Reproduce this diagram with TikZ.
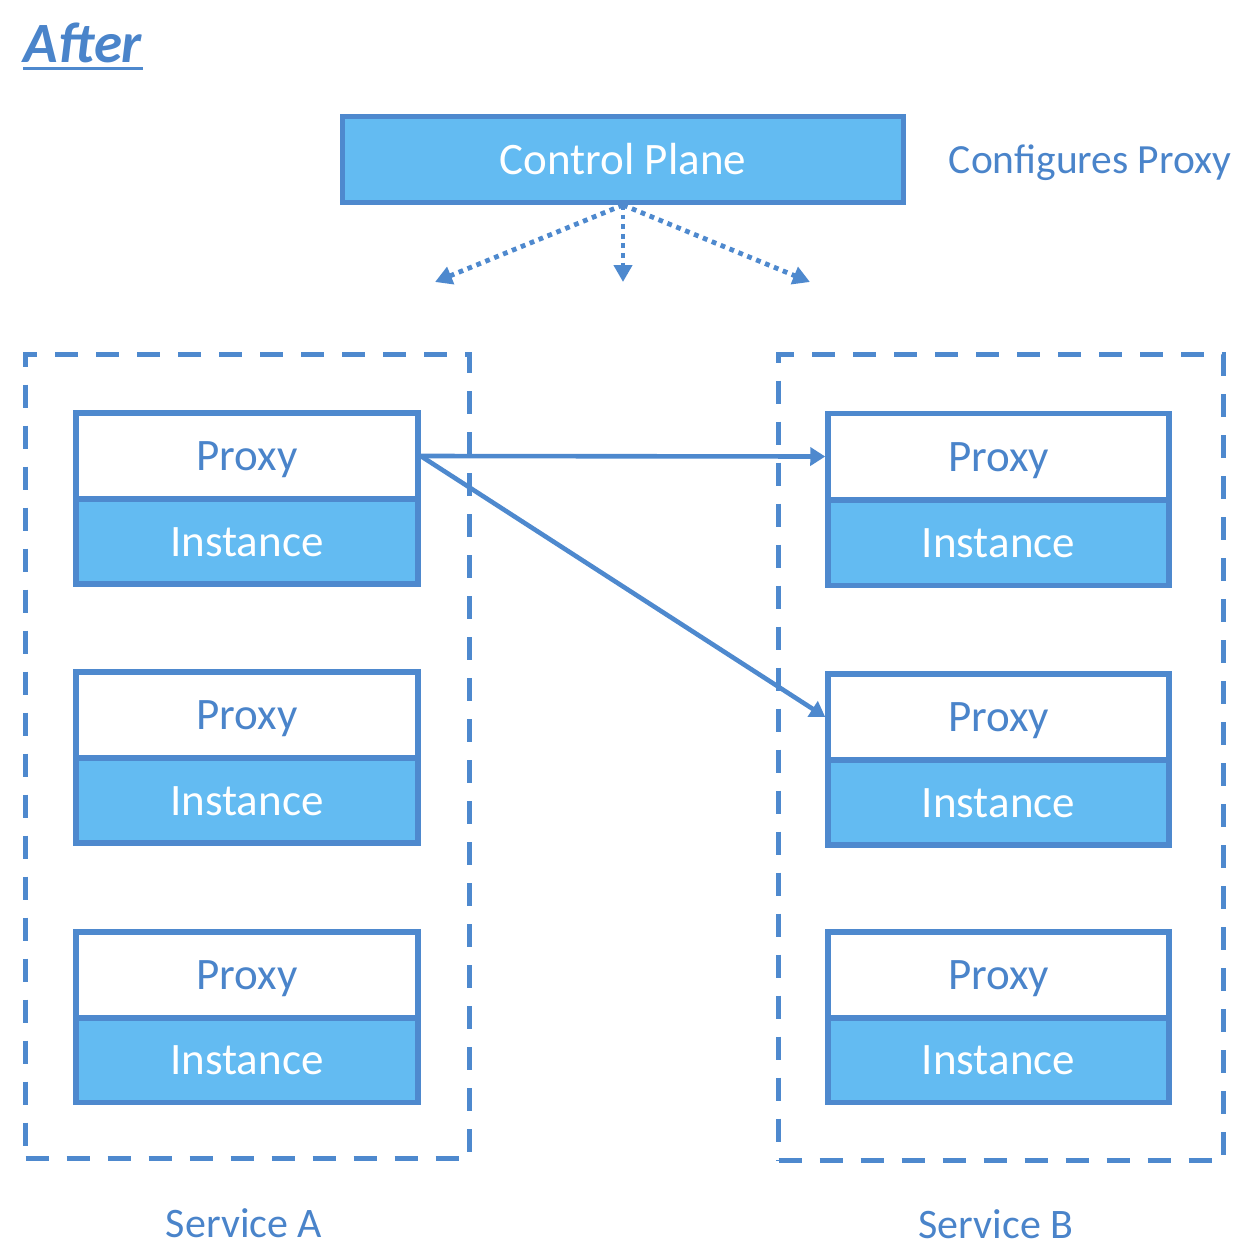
\documentclass[tikz,border=0pt]{standalone}
\usepackage{fontspec}
\setmainfont{Carlito}
\usetikzlibrary{arrows.meta}
\definecolor{edge}{HTML}{4E89CE}
\definecolor{fillb}{HTML}{63BBF2}
\definecolor{txt}{HTML}{4A84CA}
\begin{document}
\begin{tikzpicture}[x=0.5pt,y=-0.5pt,
  proxybox/.style={draw=edge, line width=2.75pt, fill=white, minimum width=171pt,
    minimum height=43pt, inner sep=0pt, text=txt, text height=14.5pt, text depth=0pt,
    font=\fontsize{22.5}{27}\selectfont},
  instbox/.style={proxybox, fill=fillb, text=white, minimum height=42.5pt},
  cpbox/.style={draw=edge, line width=2.5pt, fill=fillb, minimum width=280.5pt,
    minimum height=43pt, inner sep=0pt, text=white, text height=14.5pt, text depth=0pt,
    font=\fontsize{22.5}{27}\selectfont},
  svcframe/.style={draw=edge, line width=2.5pt, dash pattern=on 11.5pt off 9pt, inner sep=0pt},
  lbl/.style={text=txt, inner sep=0pt, text height=13.5pt, text depth=0pt,
    font=\fontsize{21}{25}\selectfont},
  dotarrow/.style={draw=edge, line width=2.4pt, dash pattern=on 2.4pt off 2.4pt,
    -{Triangle[length=8.5pt,width=9pt]}},
  solidarrow/.style={draw=edge, line width=2.3pt, -{Triangle[length=7.5pt,width=9pt]}}
]
\useasboundingbox (0,0) rectangle (1250,1254);

% title
\node[text=txt, inner sep=0pt, anchor=base, font=\fontsize{28.5}{34}\selectfont\bfseries\itshape] (after) at (83,62) {After};
\draw[edge, line width=1.5pt] (23,68) coordinate (ul1) -- (143,68) coordinate (ul2);

% control plane
\node[cpbox] (cp) at (623,159.5) {Control Plane};
\node[lbl, text height=13.4pt, font=\fontsize{20.75}{25}\selectfont] (conf) at (1090,160.5) {Configures Proxy};

\coordinate (dl) at (435,282);
\coordinate (dm) at (623,282);
\coordinate (dr) at (810,282);
\draw[dotarrow] (cp.south) -- (dl);
\draw[dotarrow] (cp.south) -- (dm);
\draw[dotarrow] (cp.south) -- (dr);

% service frames
\node[svcframe, minimum width=222pt, minimum height=402pt] (svcA) at (247.5,756.5) {};
\node[svcframe, minimum width=222.5pt, minimum height=403pt] (svcB) at (1001,757.5) {};
\node[lbl] (labA) at (244,1224) {Service A};
\node[lbl] (labB) at (996,1225) {Service B};

% service A boxes
\node[instbox] (ia1) at (247,541.5) {Instance};
\node[proxybox] (pa1) at (247,456) {Proxy};
\node[instbox] (ia2) at (247,800.5) {Instance};
\node[proxybox] (pa2) at (247,715) {Proxy};
\node[instbox] (ia3) at (247,1060) {Instance};
\node[proxybox] (pa3) at (247,975) {Proxy};

% service B boxes
\node[instbox, minimum width=170.5pt] (ib1) at (998.5,543) {Instance};
\node[proxybox, minimum width=170.5pt] (pb1) at (998.5,456.5) {Proxy};
\node[instbox, minimum width=170.5pt] (ib2) at (998.5,802.5) {Instance};
\node[proxybox, minimum width=170.5pt] (pb2) at (998.5,717) {Proxy};
\node[instbox, minimum width=170.5pt] (ib3) at (998.5,1060) {Instance};
\node[proxybox, minimum width=170.5pt] (pb3) at (998.5,975) {Proxy};

% connections
\draw[solidarrow] (pa1.east) -- (pb1.west);
\draw[solidarrow] (pa1.east) -- (pb2.west);
\end{tikzpicture}
\end{document}
